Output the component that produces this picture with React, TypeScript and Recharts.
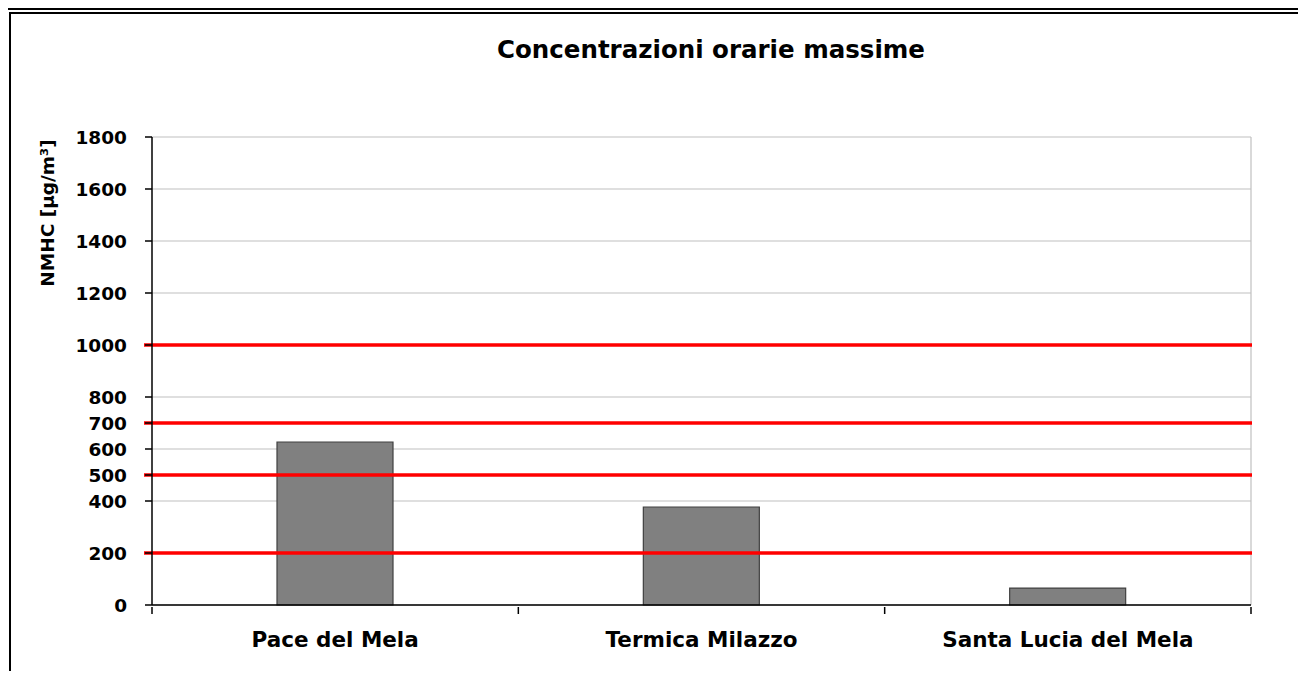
import React from 'react';
import {
  BarChart,
  Bar,
  XAxis,
  YAxis,
  CartesianGrid,
  ReferenceLine
} from 'recharts';

const stations = ['Pace del Mela', 'Termica Milazzo', 'Santa Lucia del Mela'];
const maxValues = [627, 377, 65];
const yTicks = [0, 200, 400, 500, 600, 700, 800, 1000, 1200, 1400, 1600, 1800];
const limitLines = [200, 500, 700, 1000];

const FONT = '"DejaVu Sans", Verdana, sans-serif';

const data = stations.map((name, i) => ({ name, pos: i + 0.5, value: maxValues[i] }));

const xTicks = [0, 0.5, 1, 1.5, 2, 2.5, 3];

interface TickProps {
  x: number;
  y: number;
  payload: { value: number };
}

const StationTick = ({ x, y, payload }: TickProps) => {
  const v = payload.value;
  if (Number.isInteger(v)) {
    return <line x1={x} y1={y} x2={x} y2={y + 7} stroke="#000" strokeWidth={1.5} />;
  }
  const label = stations[Math.floor(v)];
  return (
    <text x={x} y={y + 40} textAnchor="middle" fontSize={21.5} fontWeight={700} fill="#000" fontFamily={FONT}>
      {label}
    </text>
  );
};

interface LineShapeProps {
  x1: number;
  y1: number;
  x2: number;
  y2: number;
}

const LimitLine = ({ x1, y1, x2, y2 }: LineShapeProps) => (
  <line x1={x1 - 8} y1={y1} x2={x2 + 1} y2={y2} stroke="#ff0000" strokeWidth={3.5} />
);

export default function App() {
  return (
    <div style={{ position: 'relative', width: 1306, height: 679, margin: -8, background: '#fff', overflow: 'hidden' }}>
      <div style={{ position: 'absolute', left: 0, top: 0, width: 1306, height: 6, background: '#f0f0f0' }} />
      <div style={{ position: 'absolute', left: 0, top: 6, width: 1306, height: 4, background: '#000' }} />
      <div style={{ position: 'absolute', left: 9, top: 12, width: 1297, height: 1.5, background: '#000' }} />
      <div style={{ position: 'absolute', left: 9, top: 12, width: 1.5, height: 667, background: '#000' }} />
      <div
        style={{
          position: 'absolute',
          left: 0,
          top: 35,
          width: 1422,
          textAlign: 'center',
          fontFamily: FONT,
          fontWeight: 700,
          fontSize: 24.5,
          lineHeight: '30px',
          color: '#000'
        }}
      >
        Concentrazioni orarie massime
      </div>
      <div style={{ position: 'absolute', left: 0, top: 0 }}>
        <BarChart
          width={1306}
          height={679}
          data={data}
          margin={{ top: 137, right: 55, bottom: 14, left: 72 }}
          style={{ fontFamily: FONT }}
        >
          <CartesianGrid
            stroke="#c0c0c0"
            strokeWidth={1.2}
            verticalCoordinatesGenerator={({ offset }: any) => [offset.left + offset.width]}
          />
          <XAxis
            type="number"
            dataKey="pos"
            domain={[0, 3]}
            ticks={xTicks}
            allowDataOverflow
            height={60}
            tickSize={0}
            tickLine={false}
            axisLine={{ stroke: '#000', strokeWidth: 1.5 }}
            tick={(props: any) => <StationTick {...props} />}
            interval={0}
          />
          <YAxis
            type="number"
            domain={[0, 1800]}
            ticks={yTicks}
            interval={0}
            width={80}
            tickSize={7}
            tickMargin={18}
            axisLine={{ stroke: '#000', strokeWidth: 1.5 }}
            tickLine={{ stroke: '#000', strokeWidth: 1.5 }}
            tick={{ fill: '#000', fontSize: 18.5, fontWeight: 700, fontFamily: FONT }}
          />
          <Bar dataKey="value" barSize={116} fill="#808080" stroke="#404040" strokeWidth={1.2} isAnimationActive={false} />
          {limitLines.map((v) => (
            <ReferenceLine key={v} y={v} shape={(p: any) => <LimitLine {...p} />} />
          ))}
          <text
            x={47}
            y={213}
            transform="rotate(-90 47 213)"
            textAnchor="middle"
            dominantBaseline="central"
            fontSize={18.5}
            fontWeight={700}
            fill="#000"
            fontFamily={FONT}
          >
            NMHC [µg/m³]
          </text>
        </BarChart>
      </div>
    </div>
  );
}
